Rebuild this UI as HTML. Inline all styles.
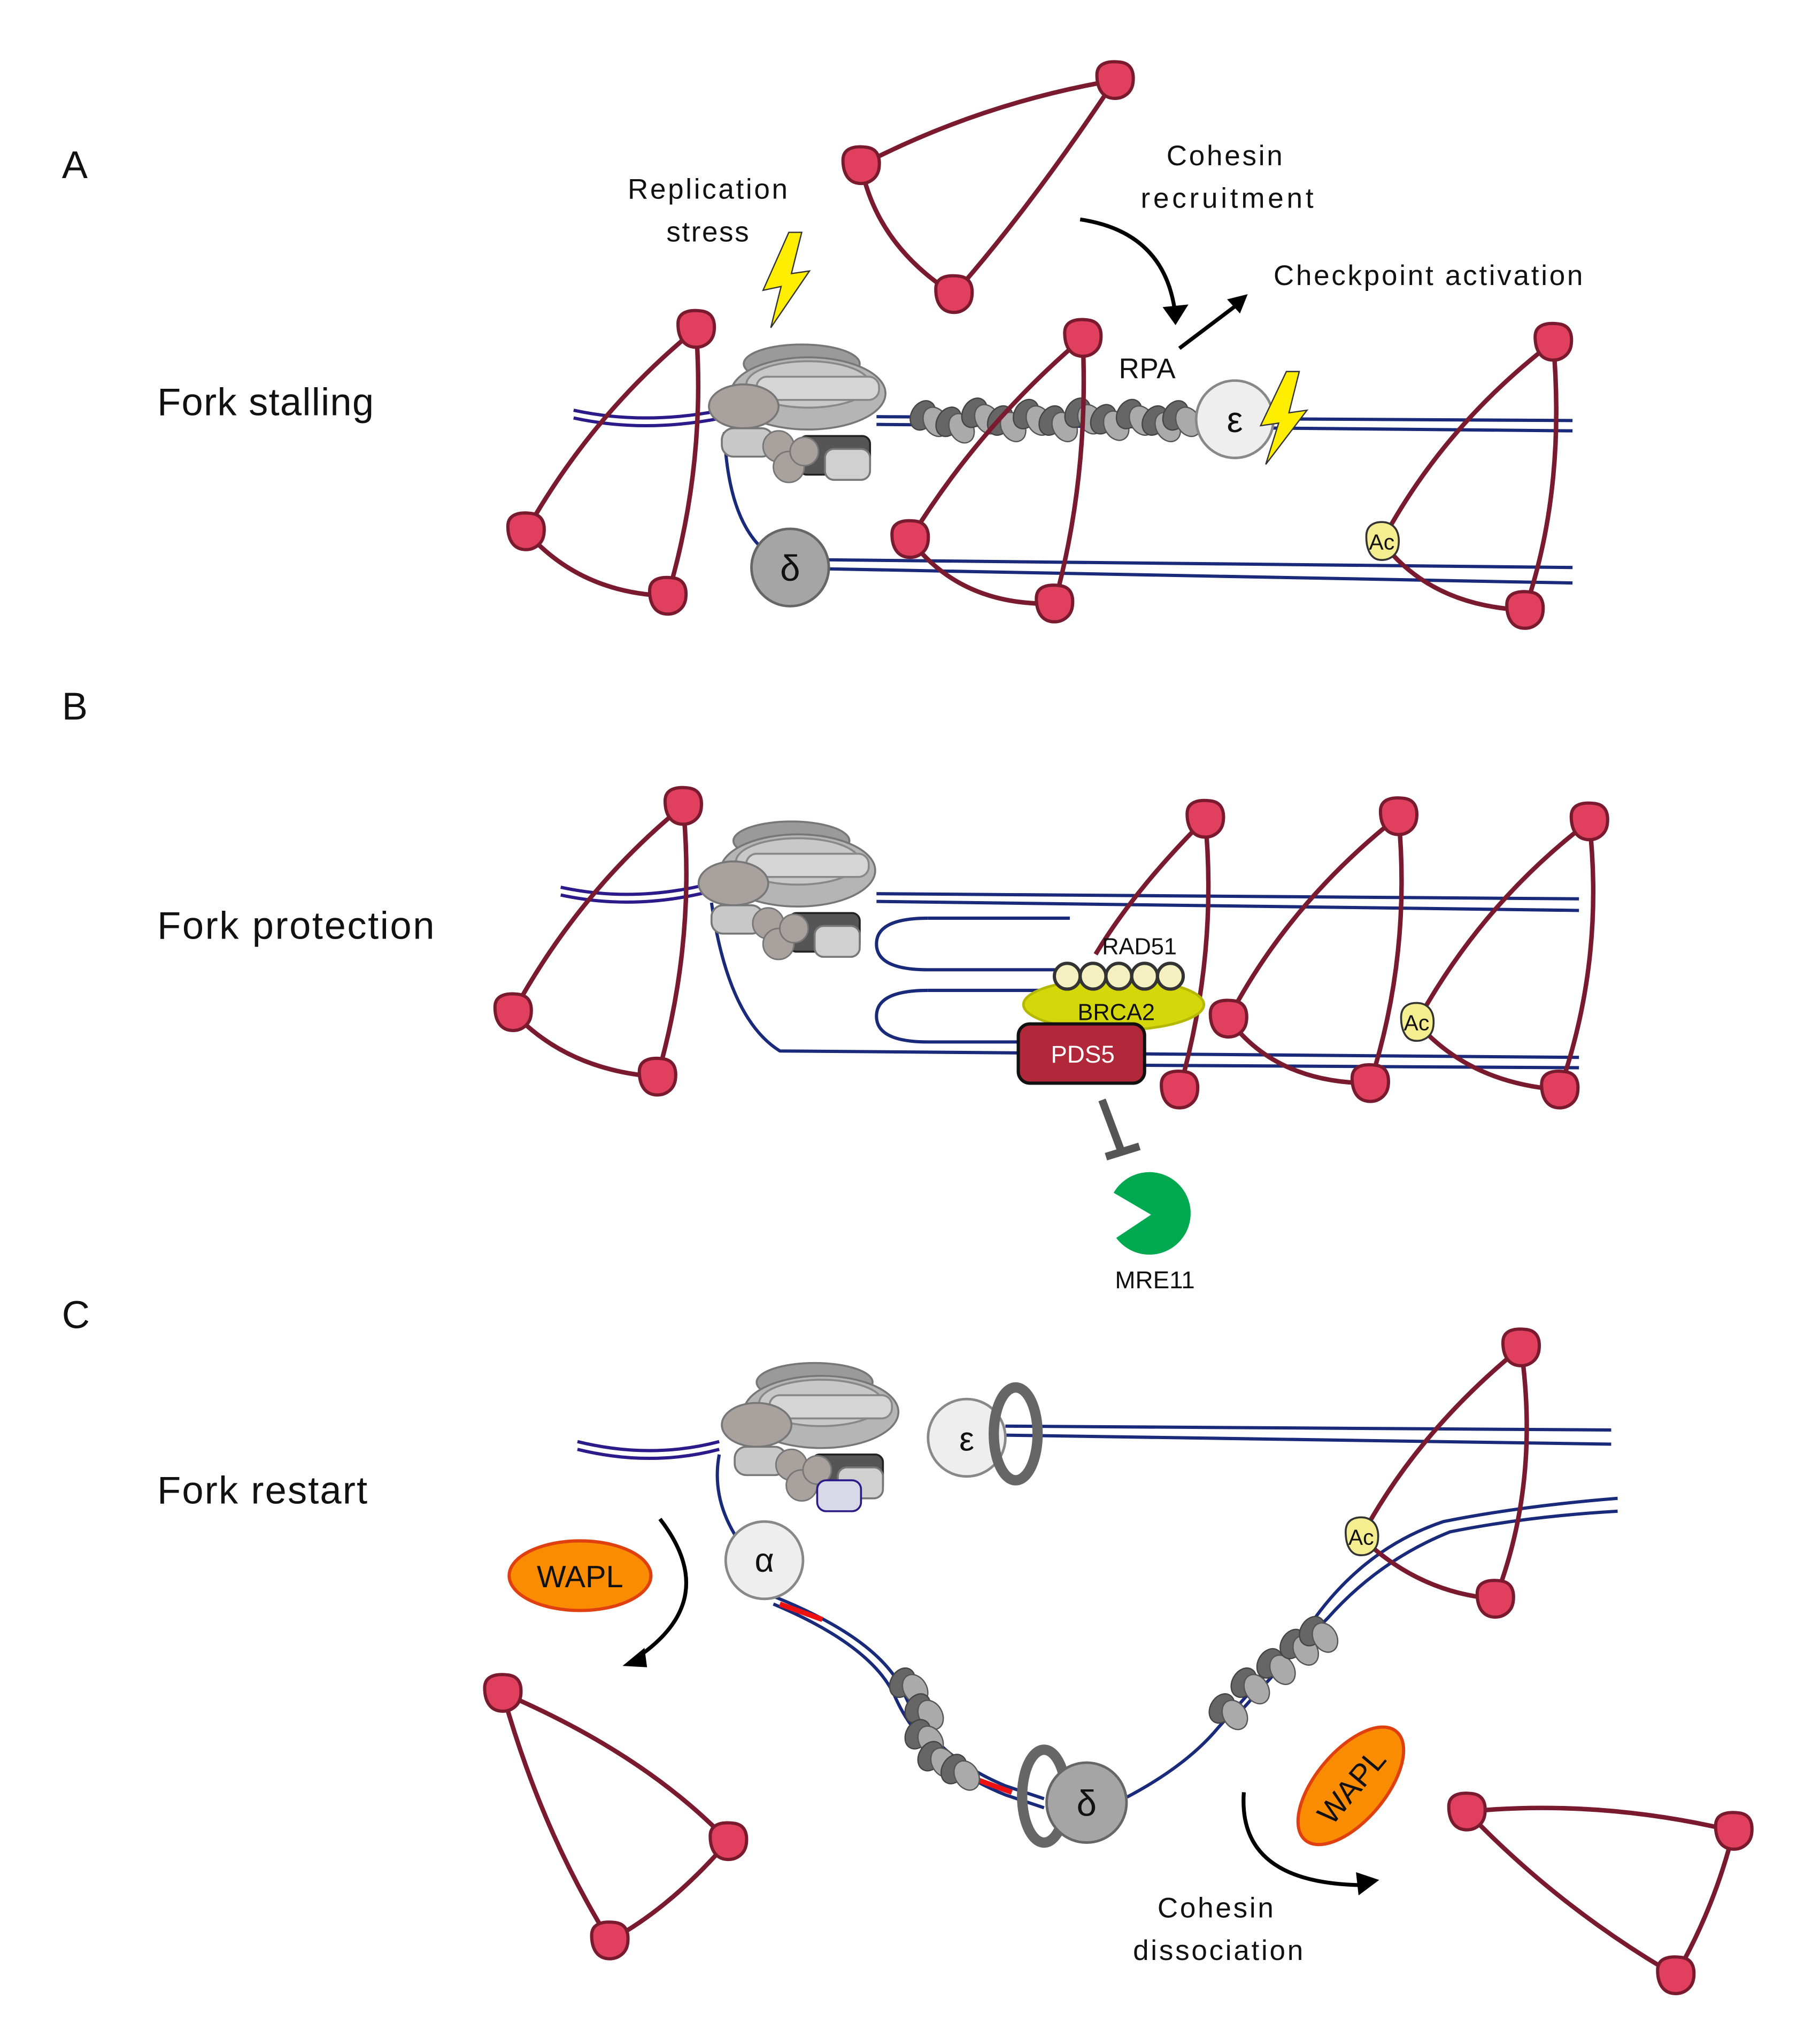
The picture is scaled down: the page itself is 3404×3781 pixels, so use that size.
<!DOCTYPE html>
<html><head><meta charset="utf-8"><style>
html,body{margin:0;padding:0;background:#fff}
svg{display:block}
text{font-family:"Liberation Sans","DejaVu Sans",sans-serif;fill:#111}
</style></head><body>
<svg width="3404" height="3781" viewBox="0 0 1412 1568" xmlns="http://www.w3.org/2000/svg">
<defs>
<g id="blob"><path d="M-14,-4 C-14,-14 -4,-15 4,-14 C13,-13 15,-6 14,2 C13,10 6,15 -2,14 C-10,13 -14,6 -14,-4Z" fill="#e0405e" stroke="#7a1a2e" stroke-width="2.5"/></g>
<g id="ac"><path d="M-12,-4 C-12,-14 -4,-16 3,-15 C12,-13 14,-5 13,3 C12,11 5,15 -2,14 C-9,13 -12,5 -12,-4Z" fill="#f5ee90" stroke="#333" stroke-width="1.5"/><text x="0" y="6" font-size="17" text-anchor="middle">Ac</text></g>
<g id="hel">
<ellipse cx="0" cy="-28" rx="45" ry="15" fill="#9a9a9a" stroke="#777" stroke-width="1.5"/>
<ellipse cx="5" cy="-5" rx="60" ry="28" fill="#b5b5b5" stroke="#777" stroke-width="1.5"/>
<ellipse cx="5" cy="-12" rx="48" ry="18" fill="#c8c8c8" stroke="#888" stroke-width="1.5"/>
<rect x="-35" y="-18" width="95" height="18" rx="8" fill="#d5d5d5" stroke="#888" stroke-width="1.5"/>
<ellipse cx="-45" cy="5" rx="27" ry="17" fill="#a8a19e" stroke="#777" stroke-width="1.5"/>
<rect x="-2" y="28" width="55" height="30" rx="6" fill="#555" stroke="#222" stroke-width="1.5"/>
<rect x="-62" y="22" width="40" height="22" rx="9" fill="#c8c8c8" stroke="#777" stroke-width="1.5"/>
<circle cx="-18" cy="36" r="12" fill="#a8a19e" stroke="#777" stroke-width="1.2"/>
<circle cx="-10" cy="52" r="12" fill="#a8a19e" stroke="#777" stroke-width="1.2"/>
<circle cx="2" cy="40" r="11" fill="#a8a19e" stroke="#777" stroke-width="1.2"/>
<rect x="18" y="38" width="35" height="24" rx="7" fill="#d0d0d0" stroke="#777" stroke-width="1.5"/>
</g>
<g id="rpa">
<ellipse cx="0" cy="0" rx="9" ry="12" fill="#666" stroke="#444" transform="rotate(30)"/>
<ellipse cx="10" cy="5" rx="9" ry="12" fill="#aaa" stroke="#555" transform="rotate(-30 10 5)"/>
</g>
</defs>

<!-- ===== Panel A ===== -->
<text x="48" y="138" font-size="30">A</text>
<text x="122" y="322" font-size="30" textLength="168">Fork stalling</text>
<text x="549" y="154" font-size="22" text-anchor="middle" textLength="124">Replication</text>
<text x="549" y="187" font-size="22" text-anchor="middle" textLength="64">stress</text>
<text x="950" y="128" font-size="22" text-anchor="middle" textLength="90">Cohesin</text>
<text x="952" y="161" font-size="22" text-anchor="middle" textLength="134">recruitment</text>
<text x="988" y="221" font-size="22" textLength="240">Checkpoint activation</text>
<text x="868" y="293" font-size="22" textLength="44">RPA</text>

<g fill="none" stroke="#7a1a2e" stroke-width="3.5">
<path d="M668,128 Q760,80 865,62"/><path d="M865,62 Q800,160 740,228"/><path d="M740,228 Q680,190 668,128"/>
</g>
<use href="#blob" x="865" y="62"/><use href="#blob" x="668" y="128"/><use href="#blob" x="740" y="228"/>
<path d="M838,170 Q905,180 912,245" fill="none" stroke="#000" stroke-width="3"/>
<path d="M902,238 L912,252 L922,236Z" fill="#000"/>
<path d="M915,270 L960,236" stroke="#000" stroke-width="3"/>
<path d="M968,228 L952,232 L962,243Z" fill="#000"/>
<path d="M612,180 L592,225 L606,222 L598,254 L628,210 L614,212 L622,180Z" fill="#ffee00" stroke="#333" stroke-width="1"/>

<g fill="none" stroke-width="2.5">
<path d="M445,318 Q500,330 560,318 M445,324 Q500,336 560,324" stroke="#2a1a8a"/>
<path d="M680,323 L1220,326 M680,329 L1220,334" stroke="#1a2a7a"/>
<path d="M562,335 Q565,410 600,432 M640,434 L1220,440 M640,441 L1220,452" stroke="#1a2a7a"/>
</g>
<g>
<use href="#rpa" x="716" y="322"/><use href="#rpa" x="736" y="327"/><use href="#rpa" x="756" y="320"/><use href="#rpa" x="776" y="326"/>
<use href="#rpa" x="796" y="321"/><use href="#rpa" x="816" y="326"/><use href="#rpa" x="836" y="320"/><use href="#rpa" x="856" y="325"/>
<use href="#rpa" x="876" y="321"/><use href="#rpa" x="896" y="326"/><use href="#rpa" x="912" y="322"/>
</g>
<circle cx="958" cy="325" r="30" fill="#eeeeee" stroke="#888" stroke-width="2"/>
<text x="958" y="335" font-size="28" text-anchor="middle">ε</text>
<path d="M998,288 L978,330 L992,328 L982,360 L1014,318 L1000,320 L1008,288Z" fill="#ffee00" stroke="#333" stroke-width="1"/>
<use href="#hel" x="622" y="310"/>
<circle cx="613" cy="440" r="30" fill="#a5a5a5" stroke="#666" stroke-width="2"/>
<text x="613" y="450" font-size="28" text-anchor="middle">δ</text>

<g fill="none" stroke="#7a1a2e" stroke-width="3.5">
<path d="M540,255 Q460,320 408,412"/><path d="M540,255 Q548,360 518,462"/><path d="M408,412 Q450,460 518,462"/>
<path d="M840,262 Q760,330 706,418"/><path d="M840,262 Q845,370 818,468"/><path d="M706,418 Q745,470 818,468"/>
<path d="M1205,265 Q1120,330 1072,420"/><path d="M1205,265 Q1215,380 1183,473"/><path d="M1072,420 Q1110,470 1183,473"/>
</g>
<use href="#blob" x="540" y="255"/><use href="#blob" x="408" y="412"/><use href="#blob" x="518" y="462"/>
<use href="#blob" x="840" y="262"/><use href="#blob" x="706" y="418"/><use href="#blob" x="818" y="468"/>
<use href="#blob" x="1205" y="265"/><use href="#ac" x="1072" y="420"/><use href="#blob" x="1183" y="473"/>

<!-- ===== Panel B ===== -->
<text x="48" y="558" font-size="30">B</text>
<text x="122" y="728" font-size="30" textLength="215">Fork protection</text>
<g fill="none" stroke-width="2.5">
<path d="M435,688 Q490,700 548,686 M435,694 Q490,706 548,692" stroke="#2a1a8a"/>
<path d="M680,693 L1225,697 M680,699 L1225,706" stroke="#1a2a7a"/>
<path d="M720,712 Q680,712 680,732 Q680,752 720,752 L830,752" stroke="#1a2a7a"/>
<path d="M720,768 Q680,768 680,788 Q680,808 720,808 L800,808" stroke="#1a2a7a"/>
<path d="M720,712 L830,712 M720,768 L820,768" stroke="#1a2a7a"/>
<path d="M552,700 Q565,790 605,815 L1225,820 M870,826 L1225,828" stroke="#1a2a7a"/>
</g>
<use href="#hel" x="614" y="680"/>

<g fill="none" stroke="#7a1a2e" stroke-width="3.5">
<path d="M530,625 Q450,690 398,785"/><path d="M530,625 Q540,730 510,835"/><path d="M398,785 Q440,830 510,835"/>
<path d="M935,635 Q880,690 850,740"/><path d="M935,635 Q945,740 915,845"/>
<path d="M1085,633 Q1000,700 953,790"/><path d="M1085,633 Q1095,740 1063,840"/><path d="M953,790 Q990,840 1063,840"/>
<path d="M1233,637 Q1150,700 1099,793"/><path d="M1233,637 Q1245,745 1210,845"/><path d="M1099,793 Q1140,840 1210,845"/>
</g>
<use href="#blob" x="530" y="625"/><use href="#blob" x="398" y="785"/><use href="#blob" x="510" y="835"/>
<use href="#blob" x="935" y="635"/><use href="#blob" x="915" y="845"/>
<use href="#blob" x="1085" y="633"/><use href="#blob" x="953" y="790"/><use href="#blob" x="1063" y="840"/>
<use href="#blob" x="1233" y="637"/><use href="#ac" x="1099" y="793"/><use href="#blob" x="1210" y="845"/>

<text x="884" y="740" font-size="18" text-anchor="middle">RAD51</text>
<ellipse cx="864" cy="779" rx="70" ry="20" fill="#d4d80a" stroke="#b5b800" stroke-width="2"/>
<g fill="#f5f0c0" stroke="#333" stroke-width="2.5">
<circle cx="828" cy="757" r="10"/><circle cx="848" cy="757" r="10"/><circle cx="868" cy="757" r="10"/><circle cx="888" cy="757" r="10"/><circle cx="908" cy="757" r="10"/>
</g>
<text x="866" y="791" font-size="18" text-anchor="middle">BRCA2</text>
<rect x="790" y="794" width="98" height="46" rx="9" fill="#b0283a" stroke="#111" stroke-width="2.5"/>
<text x="840" y="824" font-size="19" text-anchor="middle" style="fill:#fff">PDS5</text>
<path d="M855,853 L870,893" stroke="#555" stroke-width="6"/>
<path d="M858,897 L884,889" stroke="#555" stroke-width="6"/>
<path d="M893,942 L864,925 A32,32 0 1,1 866,960 Z" fill="#00a84f"/>
<text x="896" y="999" font-size="19" text-anchor="middle">MRE11</text>

<!-- ===== Panel C ===== -->
<text x="48" y="1030" font-size="30">C</text>
<text x="122" y="1166" font-size="30" textLength="163">Fork restart</text>
<g fill="none" stroke-width="2.5">
<path d="M448,1118 Q505,1132 558,1118 M448,1124 Q505,1138 558,1124" stroke="#2a1a8a"/>
<path d="M780,1106 L1250,1109 M780,1113 L1250,1120" stroke="#1a2a7a"/>
<path d="M558,1128 Q552,1160 570,1190 M600,1238 Q680,1270 700,1310 Q720,1360 780,1385 L810,1395 M600,1244 Q676,1276 694,1315 Q716,1366 780,1392 L810,1402"  stroke="#1a2a7a"/>
<path d="M872,1395 Q920,1370 945,1340 Q990,1290 1020,1255 Q1060,1200 1120,1180 Q1180,1168 1255,1162 M960,1330 Q1000,1285 1030,1255 Q1070,1210 1125,1188 Q1185,1176 1255,1172" stroke="#1a2a7a"/>
</g>
<path d="M605,1244 L638,1256" stroke="#ee1111" stroke-width="4"/>
<path d="M752,1378 L785,1390" stroke="#ee1111" stroke-width="4"/>
<use href="#hel" x="632" y="1100"/>
<rect x="634" y="1148" width="34" height="24" rx="7" fill="#d8d8e8" stroke="#2a1a8a" stroke-width="1.5"/>
<circle cx="750" cy="1115" r="30" fill="#eeeeee" stroke="#888" stroke-width="2"/>
<text x="750" y="1125" font-size="26" text-anchor="middle">ε</text>
<ellipse cx="788" cy="1112" rx="17" ry="36" fill="none" stroke="#666" stroke-width="8"/>
<circle cx="593" cy="1210" r="30" fill="#eeeeee" stroke="#888" stroke-width="2"/>
<text x="593" y="1219" font-size="26" text-anchor="middle">α</text>
<g>
<use href="#rpa" x="700" y="1305"/><use href="#rpa" x="712" y="1325"/><use href="#rpa" x="712" y="1345"/><use href="#rpa" x="722" y="1362"/><use href="#rpa" x="740" y="1372"/>
<use href="#rpa" x="948" y="1325"/><use href="#rpa" x="965" y="1305"/><use href="#rpa" x="985" y="1290"/><use href="#rpa" x="1003" y="1275"/><use href="#rpa" x="1018" y="1265"/>
</g>
<ellipse cx="810" cy="1393" rx="17" ry="36" fill="none" stroke="#666" stroke-width="8"/>
<circle cx="843" cy="1398" r="31" fill="#a5a5a5" stroke="#666" stroke-width="2"/>
<text x="843" y="1408" font-size="28" text-anchor="middle">δ</text>

<ellipse cx="450" cy="1222" rx="55" ry="27" fill="#f98c00" stroke="#e04010" stroke-width="2.5"/>
<text x="450" y="1231" font-size="24" text-anchor="middle">WAPL</text>
<g transform="rotate(-50 1048 1385)">
<ellipse cx="1048" cy="1385" rx="55" ry="27" fill="#f98c00" stroke="#e04010" stroke-width="2.5"/>
<text x="1048" y="1394" font-size="24" text-anchor="middle">WAPL</text>
</g>
<path d="M512,1178 Q560,1240 495,1285" fill="none" stroke="#000" stroke-width="3"/>
<path d="M483,1292 L500,1278 L502,1293Z" fill="#000"/>
<path d="M965,1390 Q960,1460 1055,1462" fill="none" stroke="#000" stroke-width="3"/>
<path d="M1070,1458 L1052,1452 L1054,1470Z" fill="#000"/>
<text x="943" y="1487" font-size="22" text-anchor="middle" textLength="90">Cohesin</text>
<text x="945" y="1520" font-size="22" text-anchor="middle" textLength="132">dissociation</text>

<g fill="none" stroke="#7a1a2e" stroke-width="3.5">
<path d="M1180,1045 Q1100,1110 1056,1192"/><path d="M1180,1045 Q1195,1150 1160,1240"/><path d="M1056,1192 Q1100,1235 1160,1240"/>
<path d="M390,1313 Q500,1360 565,1428"/><path d="M390,1313 Q420,1420 473,1505"/><path d="M565,1428 Q520,1480 473,1505"/>
<path d="M1138,1405 Q1240,1395 1345,1420"/><path d="M1345,1420 Q1330,1480 1300,1532"/><path d="M1138,1405 Q1210,1480 1300,1532"/>
</g>
<use href="#blob" x="1180" y="1045"/><use href="#ac" x="1056" y="1192"/><use href="#blob" x="1160" y="1240"/>
<use href="#blob" x="390" y="1313"/><use href="#blob" x="565" y="1428"/><use href="#blob" x="473" y="1505"/>
<use href="#blob" x="1138" y="1405"/><use href="#blob" x="1345" y="1420"/><use href="#blob" x="1300" y="1532"/>
</svg>
</body></html>
